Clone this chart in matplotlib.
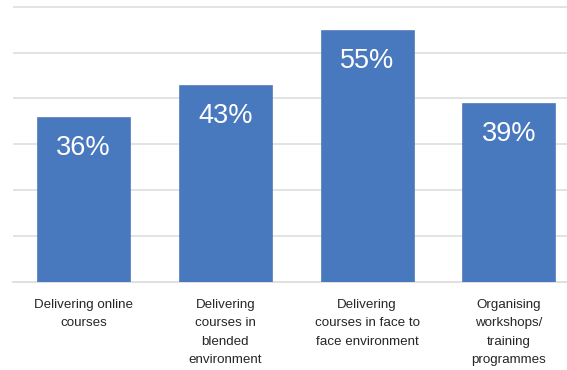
import matplotlib
matplotlib.use("Agg")
import matplotlib.pyplot as plt
from matplotlib import font_manager

categories = [
    "Delivering online\ncourses",
    "Delivering\ncourses in\nblended\nenvironment",
    "Delivering\ncourses in face to\nface environment",
    "Organising\nworkshops/\ntraining\nprogrammes",
]
values = [36, 43, 55, 39]

names = {f.name for f in font_manager.fontManager.ttflist}
tick_font = "Liberation Sans Narrow" if "Liberation Sans Narrow" in names else "Liberation Sans"
tick_size = 10.8 if tick_font == "Liberation Sans Narrow" else 9.6

fig = plt.figure(figsize=(5.67, 3.70), dpi=100)
ax = fig.add_axes([12.7 / 567, 88 / 370, 567.1 / 567, 276 / 370])

x = range(len(categories))
bars = ax.bar(x, values, width=0.656, color="#4878BE", zorder=3,
              edgecolor="#3F6AAE", linewidth=0.4)

ax.set_xlim(-0.5, 3.5)
ax.set_ylim(0, 60.15)
ax.set_yticks([10, 20, 30, 40, 50, 60])
ax.yaxis.grid(True, color="#DEDEDE", linewidth=1.2, zorder=0)
ax.set_axisbelow(True)
ax.tick_params(axis="y", left=False, labelleft=False)
ax.tick_params(axis="x", length=0, pad=12.0)
for s in ("top", "right", "left"):
    ax.spines[s].set_visible(False)
ax.spines["bottom"].set_color("#DADADA")
ax.spines["bottom"].set_linewidth(1.2)

ax.set_xticks(list(x))
ax.set_xticklabels(categories, fontfamily=tick_font, fontsize=tick_size,
                   color="#262626", linespacing=1.72, va="top")

for xi, v in zip(x, values):
    ax.annotate(f"{v}%", xy=(xi, v), xytext=(0, -22.5), textcoords="offset points",
                ha="center", va="center", color="white", fontsize=19.5,
                fontfamily="Liberation Sans", zorder=4)

fig.savefig("out.png", dpi=100)
